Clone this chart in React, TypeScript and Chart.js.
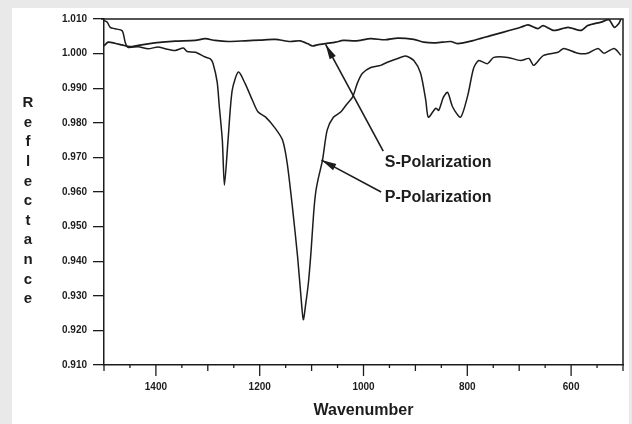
import React, { useEffect, useRef } from "react";
import { Chart, registerables } from "chart.js";

Chart.register(...registerables);

// P-Polarization spectrum (wavenumber, reflectance)
const P_WAVENUMBER = [
  1500, 1494, 1488, 1479, 1465, 1459, 1454, 1434, 1415, 1396, 1382, 1363, 1347, 1340, 1324, 1305,
  1295, 1290, 1282, 1278, 1272, 1268, 1261, 1253, 1241, 1228, 1214, 1203, 1189, 1170, 1156, 1147,
  1137, 1127, 1120, 1116, 1111, 1106, 1101, 1096, 1092, 1087, 1079, 1070, 1058, 1044, 1031, 1021,
  1012, 1002, 986, 967, 954, 934, 919, 903, 890, 880, 875, 861, 855, 846, 838, 828, 813, 799, 788,
  778, 761, 749, 722, 697, 681, 672, 653, 625, 614, 587, 568, 548, 537, 517, 504,
];
const P_REFLECTANCE = [
  1.0096, 1.0091, 1.0076, 1.0072, 1.0066, 1.0032, 1.0018, 1.002, 1.0014, 1.0019, 1.0014, 1.0009,
  1.0016, 1.0006, 1.0004, 0.999, 0.9985, 0.9972, 0.9918, 0.985, 0.975, 0.962, 0.975, 0.9894,
  0.9947, 0.9913, 0.9865, 0.9831, 0.9817, 0.9784, 0.975, 0.9683, 0.9557, 0.9413, 0.9289, 0.9231,
  0.928, 0.934, 0.943, 0.954, 0.96, 0.964, 0.9692, 0.9779, 0.9816, 0.9831, 0.9856, 0.9874, 0.9914,
  0.9943, 0.996, 0.9966, 0.9975, 0.9986, 0.9993, 0.998, 0.9943, 0.9865, 0.9816, 0.9842, 0.9836,
  0.9874, 0.9888, 0.9845, 0.9816, 0.988, 0.9957, 0.998, 0.9971, 0.9989, 0.9989, 0.998, 0.9986,
  0.9966, 0.9995, 1.0004, 1.0015, 1.0001, 1.0001, 1.0015, 1.0001, 1.0015, 0.9995,
];

// S-Polarization spectrum (wavenumber, reflectance)
const S_WAVENUMBER = [
  1500, 1492, 1479, 1465, 1450, 1434, 1415, 1388, 1363, 1324, 1305, 1286, 1261, 1228, 1199, 1170,
  1141, 1122, 1108, 1098, 1087, 1073, 1054, 1039, 1015, 986, 958, 934, 903, 884, 861, 832, 819,
  788, 755, 730, 697, 683, 664, 654, 633, 606, 581, 568, 542, 527, 517, 508, 504,
];
const S_REFLECTANCE = [
  1.0022, 1.0033, 1.003, 1.0025, 1.002, 1.0024, 1.0028, 1.0033, 1.0036, 1.0038, 1.0043, 1.0038,
  1.0035, 1.0037, 1.0039, 1.0041, 1.0035, 1.0037, 1.0029, 1.0022, 1.0026, 1.0029, 1.0033, 1.0038,
  1.0037, 1.0043, 1.004, 1.0045, 1.0041, 1.0033, 1.0031, 1.0035, 1.0029, 1.0038, 1.0052, 1.0062,
  1.0076, 1.0083, 1.0072, 1.0081, 1.0067, 1.0076, 1.0067, 1.0081, 1.0091, 1.0098, 1.0076, 1.0087,
  1.01,
];

// Axis settings
const X_MIN = 500;
const X_MAX = 1500;
const X_STEP = 50;
const X_LABELS = [1400, 1200, 1000, 800, 600];
const Y_MIN = 0.91;
const Y_MAX = 1.01;
const Y_STEP = 0.01;

const X_TITLE = "Wavenumber";
const Y_TITLE = "Reflectance";

// Annotation callouts in data coordinates
const CALLOUT_TEXT = ["S-Polarization", "P-Polarization"];
const CALLOUT_TIP_X = [1073, 1081];
const CALLOUT_TIP_Y = [1.00265, 0.96922];
const CALLOUT_TAIL_X = [962, 966];
const CALLOUT_TAIL_Y = [0.9718, 0.96];
const CALLOUT_TEXT_X = [959, 959];
const CALLOUT_TEXT_Y = [0.96844, 0.95847];

const INK = "#1c1c1c";
const FONT = "'Liberation Sans', Arial, Helvetica, sans-serif";

function pairs(xs: number[], ys: number[]) {
  return xs.map((x, i) => ({ x, y: ys[i] }));
}

const decorPlugin = {
  id: "decor",
  afterDraw(chart: any) {
    const ctx = chart.ctx;
    const area = chart.chartArea;
    const xs = chart.scales.x;
    const ys = chart.scales.y;
    ctx.save();
    // frame
    ctx.strokeStyle = INK;
    ctx.lineWidth = 1.5;
    ctx.beginPath();
    ctx.moveTo(area.left - 3, area.top);
    ctx.lineTo(area.right, area.top);
    ctx.lineTo(area.right, area.bottom);
    ctx.stroke();
    // x tick marks
    ctx.lineWidth = 1.3;
    xs.ticks.forEach((t: any) => {
      const v = Math.round(t.value);
      const px = xs.getPixelForValue(v);
      const len = v % 200 === 0 ? 11 : v % 100 === 0 ? 6 : 3;
      ctx.beginPath();
      ctx.moveTo(px, area.bottom);
      ctx.lineTo(px, area.bottom + len);
      ctx.stroke();
    });
    // callouts
    ctx.fillStyle = INK;
    ctx.font = `bold 16px ${FONT}`;
    ctx.textBaseline = "middle";
    ctx.textAlign = "left";
    CALLOUT_TEXT.forEach((label, i) => {
      const tx = xs.getPixelForValue(CALLOUT_TIP_X[i]);
      const ty = ys.getPixelForValue(CALLOUT_TIP_Y[i]);
      const sx = xs.getPixelForValue(CALLOUT_TAIL_X[i]);
      const sy = ys.getPixelForValue(CALLOUT_TAIL_Y[i]);
      ctx.lineWidth = 1.6;
      ctx.beginPath();
      ctx.moveTo(sx, sy);
      ctx.lineTo(tx, ty);
      ctx.stroke();
      const ang = Math.atan2(ty - sy, tx - sx);
      const hl = 15;
      const hw = 3.5;
      const bx = tx - hl * Math.cos(ang);
      const by = ty - hl * Math.sin(ang);
      ctx.beginPath();
      ctx.moveTo(tx, ty);
      ctx.lineTo(bx + hw * Math.sin(ang), by - hw * Math.cos(ang));
      ctx.lineTo(bx - hw * Math.sin(ang), by + hw * Math.cos(ang));
      ctx.closePath();
      ctx.fill();
      ctx.fillText(label, xs.getPixelForValue(CALLOUT_TEXT_X[i]), ys.getPixelForValue(CALLOUT_TEXT_Y[i]));
    });
    // axis titles
    ctx.textAlign = "center";
    ctx.font = `bold 16px ${FONT}`;
    ctx.fillText(X_TITLE, (area.left + area.right) / 2, 411);
    ctx.font = `bold 15px ${FONT}`;
    const letters = Array.from(Y_TITLE);
    letters.forEach((ch, i) => {
      ctx.fillText(ch, 28, 103 + i * 19.6);
    });
    ctx.restore();
  },
};

export default function App() {
  const ref = useRef<HTMLCanvasElement | null>(null);
  useEffect(() => {
    if (!ref.current) return;
    const tickFont = { family: FONT, size: 10, weight: "bold" as const };
    const chart = new Chart(ref.current, {
      type: "line",
      data: {
        datasets: [
          {
            label: "S-Polarization",
            data: pairs(S_WAVENUMBER, S_REFLECTANCE),
            borderColor: INK,
            borderWidth: 1.7,
            pointRadius: 0,
            tension: 0.25,
            fill: false,
          },
          {
            label: "P-Polarization",
            data: pairs(P_WAVENUMBER, P_REFLECTANCE),
            borderColor: INK,
            borderWidth: 1.5,
            pointRadius: 0,
            tension: 0.25,
            fill: false,
          },
        ],
      },
      options: {
        animation: false,
        responsive: false,
        maintainAspectRatio: false,
        layout: { padding: { left: 0, right: 9, top: 19, bottom: 0 } },
        plugins: { legend: { display: false }, tooltip: { enabled: false } },
        scales: {
          x: {
            type: "linear",
            reverse: true,
            min: X_MIN,
            max: X_MAX,
            grid: { display: false },
            border: { display: true, color: INK, width: 1.5 },
            ticks: {
              stepSize: X_STEP,
              autoSkip: false,
              maxRotation: 0,
              padding: 8,
              color: INK,
              font: tickFont,
              callback: (v: any) => (X_LABELS.includes(Math.round(Number(v))) ? String(Math.round(Number(v))) : ""),
            },
            afterFit: (axis: any) => {
              axis.height = 59;
            },
          },
          y: {
            min: Y_MIN,
            max: Y_MAX,
            grid: { drawOnChartArea: false, tickLength: 11, color: INK, lineWidth: 1.3 },
            border: { display: true, color: INK, width: 1.5 },
            ticks: {
              stepSize: Y_STEP,
              padding: 6,
              color: INK,
              font: tickFont,
              callback: (v: any) => Number(v).toFixed(3),
            },
            afterFit: (axis: any) => {
              axis.width = 104;
            },
          },
        },
      },
      plugins: [decorPlugin],
    });
    return () => chart.destroy();
  }, []);

  return (
    <div style={{ position: "fixed", left: 0, top: 0, width: 632, height: 424, background: "#e9e9e9" }}>
      <div style={{ position: "absolute", left: 12, top: 8, width: 617, height: 416, background: "#ffffff" }} />
      <canvas ref={ref} width={632} height={424} style={{ position: "absolute", left: 0, top: 0, width: 632, height: 424 }} />
    </div>
  );
}
